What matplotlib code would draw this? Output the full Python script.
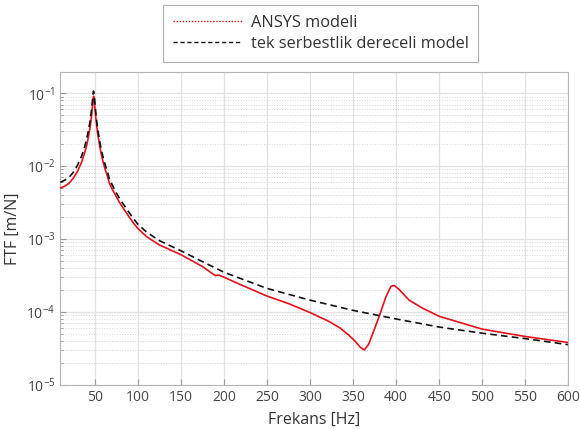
import matplotlib
matplotlib.use("Agg")
import matplotlib.pyplot as plt
from matplotlib.lines import Line2D

plt.rcParams['font.family'] = ['Open Sans', 'DejaVu Sans']

# SDOF (tek serbestlik dereceli model)
f_sdof = [10, 15, 20, 25, 30, 35, 38, 40, 42, 44, 45, 46, 47, 47.5, 48, 48.5, 49, 49.5, 50, 50.5,
          51, 52, 53, 54, 55, 56, 58, 60, 62, 65, 67, 70, 75, 80, 85, 90, 95, 100, 110, 125,
          150, 175, 200, 250, 300, 350, 400, 450, 500, 550, 600]
h_sdof = [6.0e-3, 6.4e-3, 7.0e-3, 8.2e-3, 1.03e-2, 1.4e-2, 1.8e-2, 2.2e-2, 2.8e-2, 3.8e-2,
          4.5e-2, 5.6e-2, 7.2e-2, 8.4e-2, 9.8e-2, 0.107, 0.102, 0.090, 0.077, 0.066,
          0.057, 0.044, 0.035, 0.029, 0.025, 0.021, 0.016, 0.0128, 0.0105, 8.2e-3,
          6.6e-3, 5.6e-3, 4.3e-3, 3.4e-3, 2.8e-3, 2.3e-3, 1.9e-3, 1.6e-3, 1.25e-3, 9.5e-4,
          6.9e-4, 4.9e-4, 3.5e-4, 2.1e-4, 1.45e-4, 1.05e-4, 8.0e-5, 6.2e-5, 5.1e-5, 4.3e-5, 3.55e-5]

# ANSYS modeli
f_ansys = [10, 15, 20, 25, 30, 35, 38, 40, 42, 44, 45, 46, 47, 47.5, 48, 48.6, 49.1, 49.6, 50, 50.5,
           51, 52, 53, 54, 55, 56, 58, 60, 62, 65, 67, 70, 75, 80, 85, 90, 95, 100, 110, 125,
           150, 175, 185, 190, 194, 200, 218, 250, 275, 300, 322, 335,
           345, 352, 358, 363, 368, 373, 380, 388, 394, 398, 404, 415, 431, 450, 500, 550, 600]
h_ansys = [5.0e-3, 5.3e-3, 5.8e-3, 6.8e-3, 8.5e-3, 1.15e-2, 1.5e-2, 1.8e-2, 2.3e-2, 3.1e-2,
           3.7e-2, 4.6e-2, 6.0e-2, 7.0e-2, 8.2e-2, 0.091, 0.087, 0.077, 0.066, 0.057,
           0.049, 0.038, 0.030, 0.025, 0.0215, 0.018, 0.0138, 0.011, 9.1e-3, 7.1e-3,
           5.8e-3, 4.9e-3, 3.8e-3, 3.0e-3, 2.45e-3, 2.0e-3, 1.65e-3, 1.4e-3, 1.08e-3, 8.3e-4,
           6.1e-4, 4.2e-4, 3.45e-4, 3.15e-4, 3.2e-4, 3.0e-4, 2.4e-4, 1.65e-4, 1.3e-4, 9.8e-5,
           7.4e-5, 6.0e-5, 4.8e-5, 4.0e-5, 3.3e-5, 3.0e-5, 3.6e-5, 5.1e-5, 8.5e-5, 1.6e-4,
           2.25e-4, 2.3e-4, 2.0e-4, 1.45e-4, 1.12e-4, 8.7e-5, 5.8e-5, 4.6e-5, 3.8e-5]

x_ticks = [50, 100, 150, 200, 250, 300, 350, 400, 450, 500, 550, 600]
legend_labels = ["ANSYS modeli", "tek serbestlik dereceli model"]

fig = plt.figure(figsize=(5.8, 4.29), dpi=100)
ax = fig.add_axes([0.104, 0.103, 0.876, 0.729])

ax.plot(f_ansys, h_ansys, color='#e3111b', lw=1.2, zorder=3)
ax.plot(f_sdof, h_sdof, color='#111111', lw=1.2, ls=(0, (4, 2.5)), zorder=4)

ax.set_yscale('log')
ax.set_xlim(10, 600)
ax.set_ylim(1e-5, 0.195)
ax.set_xticks(x_ticks)
ax.tick_params(axis='both', which='both', direction='in', colors='#999999', labelcolor='#444444',
               labelsize=10)
ax.tick_params(axis='both', which='major', length=4)
ax.tick_params(axis='both', which='minor', length=2)
ax.tick_params(axis='x', which='minor', bottom=False)

ax.grid(True, which='major', axis='both', color='#e2e2e2', lw=0.9, ls='-')
ax.grid(True, which='minor', axis='y', color='#d8d8d8', lw=0.7, ls=':')
ax.set_axisbelow(True)
for s in ax.spines.values():
    s.set_color('#b5b5b5')
    s.set_linewidth(0.8)

ax.set_xlabel('Frekans [Hz]', fontsize=11.5, color='#333333', labelpad=5)
ax.set_ylabel('FTF [m/N]', fontsize=11.5, color='#333333', labelpad=4)

handles = [Line2D([], [], color='#e3111b', lw=1.0, ls=(0, (1, 1.2))),
           Line2D([], [], color='#111111', lw=1.0, ls=(0, (3, 2)))]
leg = fig.legend(handles, legend_labels, loc='upper center', bbox_to_anchor=(0.553, 0.988),
                 fontsize=11.8, frameon=True, fancybox=False, edgecolor='#999999',
                 handlelength=4.2, borderpad=0.6, labelspacing=0.3, handletextpad=0.55,
                 borderaxespad=0)
leg.get_frame().set_linewidth(0.8)
for t in leg.get_texts():
    t.set_color('#333333')

fig.savefig('out.png', dpi=100)
